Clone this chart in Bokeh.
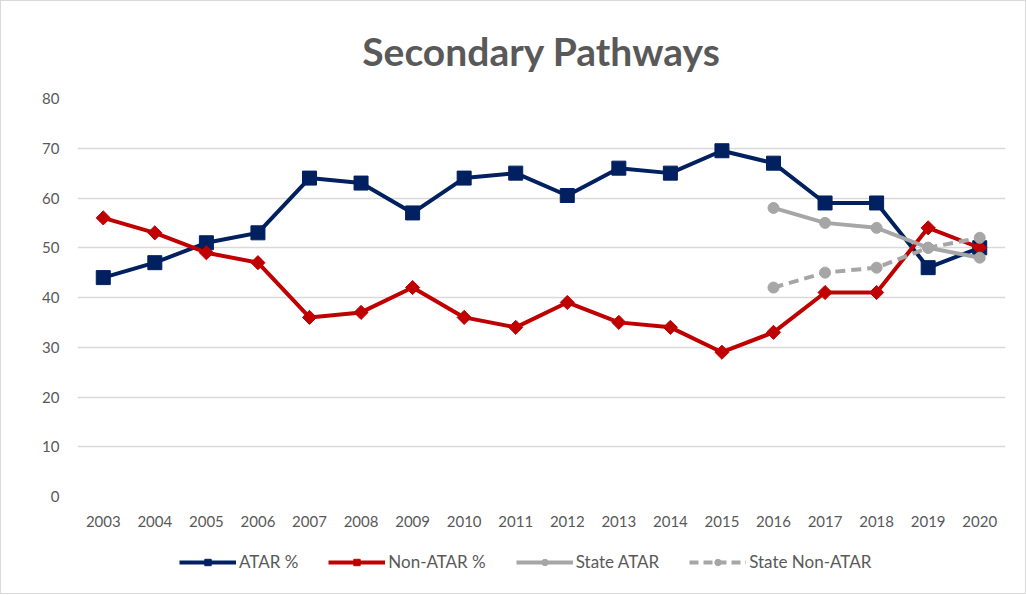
import math
from bokeh.plotting import figure
from bokeh.layouts import column
from bokeh.models import Legend, LegendItem, FixedTicker, Range1d
from bokeh.embed import file_html
from bokeh.resources import INLINE

years = list(range(2003, 2021))
atar = [44, 47, 51, 53, 64, 63, 57, 64, 65, 60.5, 66, 65, 69.5, 67, 59, 59, 46, 50]
non_atar = [56, 53, 49, 47, 36, 37, 42, 36, 34, 39, 35, 34, 29, 33, 41, 41, 54, 50]
state_years = [2016, 2017, 2018, 2019, 2020]
state_atar = [58, 55, 54, 50, 48]
state_non_atar = [42, 45, 46, 50, 52]
y_ticks = [0, 10, 20, 30, 40, 50, 60, 70, 80]
series_names = ["ATAR %", "Non-ATAR %", "State ATAR", "State Non-ATAR"]

FONT = "Lato"
GREY = "#595959"
NAVY = "#002060"
RED = "#C00000"
LG = "#A6A6A6"

p = figure(width=1024, height=540, output_backend="svg", toolbar_location=None,
           x_range=Range1d(2002.5, 2020.5), y_range=Range1d(0, 80),
           min_border_left=76, min_border_right=20, min_border_top=96, min_border_bottom=45)

p.title.text = "Secondary Pathways"
p.title.align = "center"
p.title.text_font = FONT
p.title.text_font_size = "39px"
p.title.text_font_style = "bold"
p.title.text_color = GREY
p.title.standoff = 49

p.outline_line_color = None
p.xgrid.grid_line_color = None
p.ygrid.grid_line_color = "#d9d9d9"
p.ygrid.grid_line_width = 1.5
p.yaxis.ticker = FixedTicker(ticks=y_ticks)
p.xaxis.ticker = FixedTicker(ticks=years)
for ax in (p.xaxis, p.yaxis):
    ax.axis_line_color = None
    ax.major_tick_line_color = None
    ax.minor_tick_line_color = None
    ax.major_label_text_font = FONT
    ax.major_label_text_font_size = "15px"
    ax.major_label_text_color = GREY
p.yaxis.major_label_standoff = 12
p.xaxis.major_label_standoff = 13

p.line(years, atar, line_color=NAVY, line_width=4)
p.scatter(years, atar, marker="square", size=14, fill_color=NAVY, line_color=NAVY)
p.line(years, non_atar, line_color=RED, line_width=4)
p.scatter(years, non_atar, marker="square", angle=math.pi / 4, size=10,
          fill_color=RED, line_color=RED)
p.line(state_years, state_atar, line_color=LG, line_width=4)
p.scatter(state_years, state_atar, marker="circle", size=11, fill_color=LG, line_color=LG)
p.line(state_years, state_non_atar, line_color=LG, line_width=4, line_dash="10 6")
p.scatter(state_years, state_non_atar, marker="circle", size=11, fill_color=LG, line_color=LG)

# legend panel: same series drawn outside its visible range, so only the legend shows
q = figure(width=1024, height=52, output_backend="svg", toolbar_location=None,
           x_range=Range1d(0, 1), y_range=Range1d(0, 1),
           min_border=0)
q.axis.visible = False
q.grid.visible = False
q.outline_line_color = None

r1 = [q.line(years, atar, line_color=NAVY, line_width=4),
      q.scatter(years, atar, marker="square", size=9, fill_color=NAVY, line_color=NAVY)]
r2 = [q.line(years, non_atar, line_color=RED, line_width=4),
      q.scatter(years, non_atar, marker="square", angle=math.pi / 4, size=6,
                fill_color=RED, line_color=RED)]
r3 = [q.line(state_years, state_atar, line_color=LG, line_width=4),
      q.scatter(state_years, state_atar, marker="circle", size=9, fill_color=LG, line_color=LG)]
r4 = [q.line(state_years, state_non_atar, line_color=LG, line_width=4, line_dash="9 5"),
      q.scatter(state_years, state_non_atar, marker="circle", size=9, fill_color=LG, line_color=LG)]

legend = Legend(items=[LegendItem(label=n, renderers=r) for n, r in zip(series_names, [r1, r2, r3, r4])],
                orientation="horizontal", location=(102, 21))
legend.border_line_color = None
legend.background_fill_alpha = 0
legend.label_text_font = FONT
legend.label_text_font_size = "17px"
legend.label_text_color = GREY
legend.glyph_width = 57
legend.glyph_height = 16
legend.spacing = 30
legend.label_standoff = 3
legend.margin = 0
legend.padding = 0
q.add_layout(legend, "center")

layout = column(p, q, spacing=0, styles={"border": "1px solid #d9d9d9"})
open("out.html", "w").write(file_html(layout, INLINE))
